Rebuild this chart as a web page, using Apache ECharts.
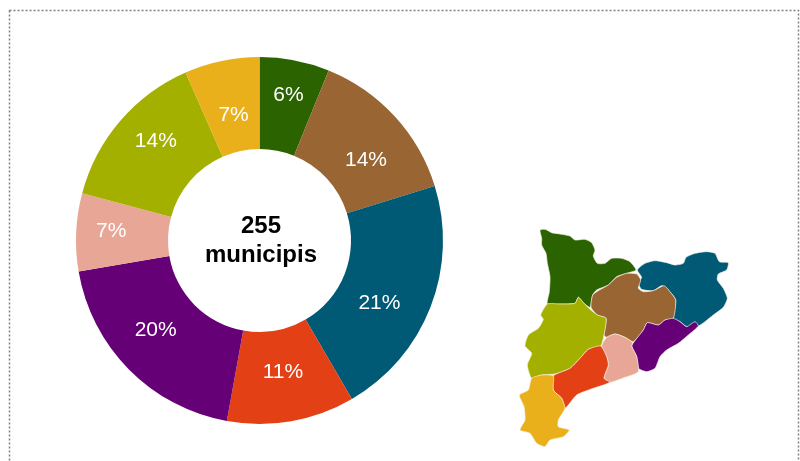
<!DOCTYPE html>
<html>
<head>
<meta charset="utf-8">
<title>255 municipis</title>
<style>
html,body{margin:0;padding:0;background:#fff;}
#main{width:800px;height:461px;}
</style>
<script src="https://cdn.jsdelivr.net/npm/echarts@6/dist/echarts.min.js"></script>
</head>
<body>
<div id="main"></div>
<script>
'use strict'
// percentatge per zona (llegit del gràfic)
var aValues = [6.15, 14.05, 21.4, 11.25, 19.45, 6.85, 14.25, 6.6];
var aColors = ['#2a6300', '#996633', '#005a75', '#e34016', '#660077', '#e8a796', '#a3b000', '#eab01b'];
var sCenter = '255\nmunicipis';

// desplaçament de cada etiqueta respecte del centre de la porció
var aOffset = [[2, -7], [3, 15], [-11, 12], [-1, -7], [-4, -9], [-8, -3], [3, -8], [3, 12]];

// silueta del mapa, coordenades de la imatge (escala 3x)
var aMap = [
	[[90,30],[105,28],[125,38],[150,42],[180,48],[195,60],[225,58],[245,68],[255,90],[250,108],[262,130],[285,130],[305,115],[335,115],[360,125],[378,150],[350,160],[320,170],[295,195],[260,210],[248,225],[240,262],[222,250],[205,232],[195,250],[150,252],[112,252],[118,215],[120,170],[112,130],[108,100],[95,75],[95,55]],
	[[382,150],[405,130],[435,122],[470,128],[495,135],[520,130],[528,112],[555,100],[590,95],[615,100],[628,125],[655,128],[650,150],[625,162],[622,180],[640,205],[652,235],[640,262],[610,285],[585,305],[565,318],[530,320],[510,305],[490,295],[497,240],[470,205],[455,197],[430,212],[395,208],[385,190],[395,172]],
	[[380,162],[392,180],[385,205],[400,215],[430,212],[462,197],[480,215],[497,240],[490,295],[465,300],[445,315],[412,308],[400,330],[370,365],[345,352],[315,342],[290,352],[282,345],[288,295],[262,285],[243,262],[248,225],[265,212],[295,195],[320,172],[350,160]],
	[[412,308],[445,315],[465,300],[490,295],[510,305],[530,320],[555,305],[565,318],[535,345],[505,370],[470,390],[450,410],[435,445],[410,455],[385,445],[380,410],[365,378],[375,362],[400,330]],
	[[290,352],[315,342],[345,352],[368,368],[365,378],[380,410],[385,455],[345,472],[300,487],[282,475],[295,435],[290,410],[275,378]],
	[[112,252],[150,252],[195,250],[205,232],[222,250],[240,268],[262,285],[288,295],[282,345],[272,378],[235,388],[210,415],[180,445],[135,462],[95,465],[65,475],[52,435],[65,400],[45,378],[55,345],[85,325],[100,298],[92,285]],
	[[235,388],[272,378],[290,410],[295,435],[282,475],[300,487],[250,505],[200,525],[165,565],[155,535],[130,510],[130,468],[180,445],[210,415]],
	[[65,475],[95,465],[130,468],[130,510],[155,535],[165,565],[145,600],[145,620],[178,630],[160,650],[120,660],[105,680],[80,670],[60,640],[30,630],[45,600],[42,560],[28,525],[55,510]]
];
var aMapColors = ['#2a6300', '#005a75', '#996633', '#660077', '#e8a796', '#a3b000', '#e34016', '#eab01b'];

window.onload = function () {
	var myChart = echarts.init(document.getElementById('main'));

	var aPieces = [];
	for (var i = 0; i < aMap.length; i++) {
		aPieces.push({
			type: 'polygon',
			shape: { points: aMap[i], smooth: 0.2 },
			style: { fill: aMapColors[i], stroke: '#f3f1e6', lineWidth: 2 }
		});
	}

	var aData = [];
	for (var j = 0; j < aValues.length; j++) {
		aData.push({
			value: aValues[j],
			itemStyle: { color: aColors[j] },
			label: { offset: aOffset[j] }
		});
	}

	myChart.setOption({
		animation: false,
		backgroundColor: '#fff',
		graphic: [
			{
				type: 'rect',
				shape: { x: 9.5, y: 10.5, width: 789, height: 480 },
				style: { fill: 'none', stroke: '#808080', lineWidth: 1.5, lineDash: [2, 2] }
			},
			{
				type: 'group',
				x: 510,
				y: 220,
				scaleX: 1 / 3,
				scaleY: 1 / 3,
				children: aPieces
			},
			{
				type: 'text',
				x: 261,
				y: 241,
				style: {
					text: sCenter,
					align: 'center',
					verticalAlign: 'middle',
					fill: '#000',
					font: 'bold 24px "Liberation Sans", Arial, sans-serif',
					lineHeight: 29
				}
			}
		],
		series: [{
			type: 'pie',
			center: [259.5, 240.5],
			radius: [91.5, 183.5],
			startAngle: 90,
			percentPrecision: 0,
			silent: true,
			label: {
				show: true,
				position: 'inside',
				formatter: '{d}%',
				color: '#fff',
				fontFamily: '"Liberation Sans", Arial, sans-serif',
				fontSize: 21,
				textBorderWidth: 0
			},
			labelLine: { show: false },
			data: aData
		}]
	});
};
</script>
</body>
</html>
